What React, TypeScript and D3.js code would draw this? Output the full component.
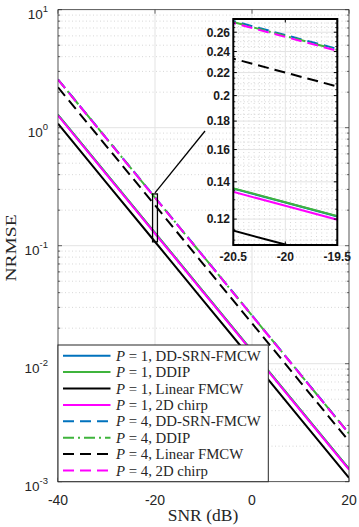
import React from "react";
import * as d3 from "d3";

// ---- data ----
const snr = [-40, -30, -20, -10, 0, 10, 20];
const p1Srn = [1.285, 0.4064, 0.1285, 0.04064, 0.01285, 0.004064, 0.001285];
const p1Ddip = [1.287, 0.407, 0.1287, 0.0407, 0.01287, 0.00407, 0.001287];
const p1Lin = [1.08, 0.3415, 0.108, 0.03415, 0.0108, 0.003415, 0.00108];
const p1Chirp = [1.268, 0.401, 0.1268, 0.0401, 0.01268, 0.00401, 0.001268];
const p4Srn = [2.57, 0.8127, 0.257, 0.08127, 0.0257, 0.008127, 0.00257];
const p4Ddip = [2.56, 0.8095, 0.256, 0.08095, 0.0256, 0.008095, 0.00256];
const p4Lin = [2.2, 0.6957, 0.22, 0.06957, 0.022, 0.006957, 0.0022];
const p4Chirp = [2.55, 0.8064, 0.255, 0.08064, 0.0255, 0.008064, 0.00255];

const legendMethods = ["DD-SRN-FMCW", "DDIP", "Linear FMCW", "2D chirp"];
const legendP = ["1", "1", "1", "1", "4", "4", "4", "4"];

const xTicks = [-40, -20, 0, 20];
const yExps = [-3, -2, -1, 0, 1];
const insetXTicks = [-20.5, -20, -19.5];
const insetYTicks = [0.12, 0.14, 0.16, 0.18, 0.2, 0.22, 0.24, 0.26];
const insetXDomain = [-20.5, -19.5];
const insetYDomain = [0.1078, 0.2746];

const series = [
  { v: p1Srn, color: "#0072BD", dash: "" },
  { v: p1Ddip, color: "#3fb43c", dash: "" },
  { v: p1Lin, color: "#000000", dash: "" },
  { v: p1Chirp, color: "#ff00ff", dash: "" },
  { v: p4Srn, color: "#0072BD", dash: "11,6" },
  { v: p4Ddip, color: "#3fb43c", dash: "11,4,2,4" },
  { v: p4Lin, color: "#000000", dash: "11,6" },
  { v: p4Chirp, color: "#ff00ff", dash: "11,6" },
];

const W = 359;
const H = 527;
const ML = 58, MR = 349, MT = 9.7, MB = 481.7;
const IL = 233.3, IR = 337.3, IT = 19, IB = 245;

export default function App() {
  const x = d3.scaleLinear().domain([-40, 20]).range([ML, MR]);
  const y = d3.scaleLog().domain([1e-3, 10]).range([MB, MT]);
  const ix = d3.scaleLinear().domain(insetXDomain).range([IL, IR]);
  const iy = d3.scaleLog().domain(insetYDomain).range([IB, IT]);

  const mainLine = (vals: number[]) =>
    d3.line<number>().x((_, i) => x(snr[i])).y((d) => y(d))(vals) || "";
  const insetLine = (vals: number[]) =>
    d3.line<number>().x((_, i) => ix(snr[i])).y((d) => iy(d))(vals) || "";

  const minorY: number[] = [];
  for (let e = -3; e < 1; e++) for (let k = 2; k <= 9; k++) minorY.push(k * Math.pow(10, e));

  const insetMinorY: number[] = [];
  for (let v = 0.11; v <= 0.2705; v += 0.005) {
    const r = Math.round(v * 1000) / 1000;
    if (!insetYTicks.some((t) => Math.abs(t - r) < 1e-6)) insetMinorY.push(r);
  }
  const insetMinorX: number[] = [];
  for (let v = -20.45; v < -19.5; v += 0.05) {
    const r = Math.round(v * 100) / 100;
    if (Math.abs(r + 20) > 1e-6) insetMinorX.push(r);
  }

  const gridCol = "#e3e3e3";
  const dotCol = "#cdcdcd";
  const axCol = "#262626";

  const legX = ML, legY = 345, legW = 268.3 - ML, legH = MB - 345;
  const rowY = (i: number) => 355.7 + i * 16.4;

  return (
    <svg width={W} height={H} style={{ position: "absolute", left: 0, top: 0, background: "#fff" }}>
      <defs>
        <clipPath id="mainClip">
          <rect x={ML} y={MT} width={MR - ML} height={MB - MT} />
        </clipPath>
        <clipPath id="insetClip">
          <rect x={IL} y={IT} width={IR - IL} height={IB - IT} />
        </clipPath>
      </defs>
      <rect x={0} y={0} width={W} height={H} fill="#fff" />
      <rect x={ML} y={MT} width={MR - ML} height={MB - MT} fill="#fff" />

      {/* main grid */}
      {minorY.map((v, i) => (
        <line key={"my" + i} x1={ML} x2={MR} y1={y(v)} y2={y(v)} stroke={dotCol} strokeWidth={0.8} strokeDasharray="1,2.5" />
      ))}
      {yExps.map((e) => (
        <line key={"gy" + e} x1={ML} x2={MR} y1={y(Math.pow(10, e))} y2={y(Math.pow(10, e))} stroke={gridCol} strokeWidth={1} />
      ))}
      {xTicks.map((t) => (
        <line key={"gx" + t} x1={x(t)} x2={x(t)} y1={MT} y2={MB} stroke={gridCol} strokeWidth={1} />
      ))}

      {/* main lines */}
      <g clipPath="url(#mainClip)">
        {series.map((s, i) => (
          <path key={"s" + i} d={mainLine(s.v)} fill="none" stroke={s.color} strokeWidth={2} strokeDasharray={s.dash || undefined} />
        ))}
      </g>

      {/* axes box and ticks */}
      <rect x={ML} y={MT} width={MR - ML} height={MB - MT} fill="none" stroke={axCol} strokeWidth={0.7} />
      {minorY.map((v, i) => (
        <g key={"mt" + i}>
          <line x1={ML} x2={ML + 2.2} y1={y(v)} y2={y(v)} stroke={axCol} strokeWidth={0.7} />
          <line x1={MR} x2={MR - 2.2} y1={y(v)} y2={y(v)} stroke={axCol} strokeWidth={0.7} />
        </g>
      ))}
      {yExps.map((e) => (
        <g key={"yt" + e}>
          <line x1={ML} x2={ML + 4} y1={y(Math.pow(10, e))} y2={y(Math.pow(10, e))} stroke={axCol} strokeWidth={0.7} />
          <line x1={MR} x2={MR - 4} y1={y(Math.pow(10, e))} y2={y(Math.pow(10, e))} stroke={axCol} strokeWidth={0.7} />
        </g>
      ))}
      {xTicks.map((t) => (
        <g key={"xt" + t}>
          <line x1={x(t)} x2={x(t)} y1={MB} y2={MB - 4} stroke={axCol} strokeWidth={0.7} />
          <line x1={x(t)} x2={x(t)} y1={MT} y2={MT + 4} stroke={axCol} strokeWidth={0.7} />
        </g>
      ))}

      {/* tick labels */}
      {xTicks.map((t) => (
        <text key={"xl" + t} x={x(t)} y={505} textAnchor="middle" fontFamily="Liberation Sans, Arial, sans-serif" fontSize={14} fill={axCol}>
          {t < 0 ? "-" + Math.abs(t) : String(t)}
        </text>
      ))}
      {yExps.map((e) => (
        <text key={"yl" + e} x={48} y={y(Math.pow(10, e)) + 9} textAnchor="end" fontFamily="Liberation Sans, Arial, sans-serif" fontSize={13.5} fill={axCol}>
          10
          <tspan fontSize={9.5} dy={-7}>{e < 0 ? "-" + Math.abs(e) : String(e)}</tspan>
        </text>
      ))}

      {/* axis labels */}
      <text x={203} y={520.5} textAnchor="middle" fontFamily="Liberation Serif, Times New Roman, serif" fontSize={17.5} fill={axCol}>
        SNR (dB)
      </text>
      <text
        transform="translate(15.5,248) rotate(-90) scale(1.3,1)"
        textAnchor="middle"
        fontFamily="Liberation Serif, Times New Roman, serif"
        fontSize={15}
        fill={axCol}
      >
        NRMSE
      </text>

      {/* legend */}
      <rect x={legX} y={legY} width={legW} height={legH} fill="#fff" stroke="#262626" strokeWidth={1} />
      {series.map((s, i) => (
        <g key={"lg" + i}>
          <line x1={63} x2={110.5} y1={rowY(i)} y2={rowY(i)} stroke={s.color} strokeWidth={2} strokeDasharray={s.dash || undefined} />
          <text x={116} y={rowY(i) + 5} fontFamily="Liberation Serif, Times New Roman, serif" fontSize={14.8} fill={axCol}>
            <tspan fontStyle="italic">P</tspan>
            {" = " + legendP[i] + ", " + legendMethods[i % 4]}
          </text>
        </g>
      ))}

      {/* zoom pointer */}
      <rect
        x={x(insetXDomain[0])}
        y={y(insetYDomain[1])}
        width={x(insetXDomain[1]) - x(insetXDomain[0])}
        height={y(insetYDomain[0]) - y(insetYDomain[1])}
        fill="none"
        stroke="#000"
        strokeWidth={1.3}
      />
      <line x1={x(-20)} y1={y(insetYDomain[1]) - 1} x2={205} y2={131} stroke="#000" strokeWidth={1.3} />

      {/* inset */}
      <rect x={IL} y={IT} width={IR - IL} height={IB - IT} fill="#fff" />
      {insetMinorY.map((v, i) => (
        <line key={"imy" + i} x1={IL} x2={IR} y1={iy(v)} y2={iy(v)} stroke={dotCol} strokeWidth={0.8} strokeDasharray="1,2.5" />
      ))}
      {insetMinorX.map((v, i) => (
        <line key={"imx" + i} x1={ix(v)} x2={ix(v)} y1={IT} y2={IB} stroke={dotCol} strokeWidth={0.8} strokeDasharray="1,2.5" />
      ))}
      {insetYTicks.map((t) => (
        <line key={"igy" + t} x1={IL} x2={IR} y1={iy(t)} y2={iy(t)} stroke={gridCol} strokeWidth={1} />
      ))}
      <line x1={ix(-20)} x2={ix(-20)} y1={IT} y2={IB} stroke={gridCol} strokeWidth={1} />
      <g clipPath="url(#insetClip)">
        {series.map((s, i) => (
          <path key={"is" + i} d={insetLine(s.v)} fill="none" stroke={s.color} strokeWidth={2} strokeDasharray={s.dash || undefined} />
        ))}
      </g>
      {insetMinorY.map((v, i) => (
        <g key={"imt" + i}>
          <line x1={IL} x2={IL + 2} y1={iy(v)} y2={iy(v)} stroke="#000" strokeWidth={0.8} />
          <line x1={IR} x2={IR - 2} y1={iy(v)} y2={iy(v)} stroke="#000" strokeWidth={0.8} />
        </g>
      ))}
      {insetYTicks.map((t) => (
        <g key={"iyt" + t}>
          <line x1={IL} x2={IL + 3.5} y1={iy(t)} y2={iy(t)} stroke="#000" strokeWidth={1} />
          <line x1={IR} x2={IR - 3.5} y1={iy(t)} y2={iy(t)} stroke="#000" strokeWidth={1} />
          <text x={230} y={iy(t) + 4.3} textAnchor="end" fontFamily="Liberation Sans, Arial, sans-serif" fontWeight="bold" fontSize={12} fill="#1a1a1a">
            {String(t)}
          </text>
        </g>
      ))}
      {insetXTicks.map((t) => (
        <g key={"ixt" + t}>
          <line x1={ix(t)} x2={ix(t)} y1={IB} y2={IB - 3.5} stroke="#000" strokeWidth={1} />
          <line x1={ix(t)} x2={ix(t)} y1={IT} y2={IT + 3.5} stroke="#000" strokeWidth={1} />
          <text x={ix(t)} y={261} textAnchor="middle" fontFamily="Liberation Sans, Arial, sans-serif" fontWeight="bold" fontSize={12} fill="#1a1a1a">
            {String(t)}
          </text>
        </g>
      ))}
      <rect x={IL} y={IT} width={IR - IL} height={IB - IT} fill="none" stroke="#000" strokeWidth={2} />
    </svg>
  );
}
